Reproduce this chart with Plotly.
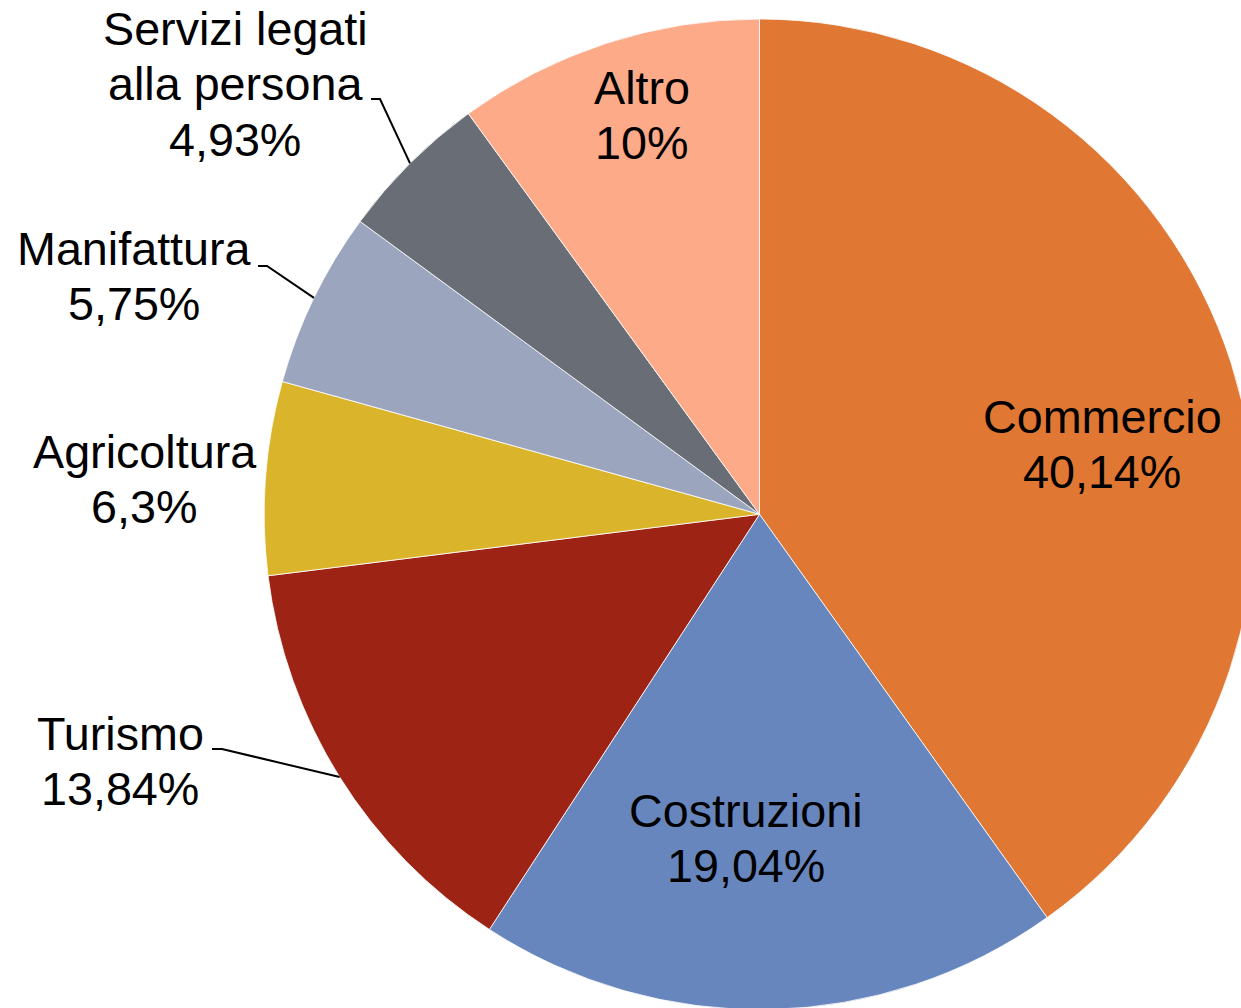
import math
import plotly.graph_objects as go

# ---------------- data ----------------
categories = ["Commercio", "Costruzioni", "Turismo", "Agricoltura",
              "Manifattura", "Servizi legati alla persona", "Altro"]
values = [40.14, 19.04, 13.84, 6.3, 5.75, 4.93, 10]
value_labels = ["40,14%", "19,04%", "13,84%", "6,3%", "5,75%", "4,93%", "10%"]
name_lines = [["Commercio"], ["Costruzioni"], ["Turismo"], ["Agricoltura"],
              ["Manifattura"], ["Servizi legati", "alla persona"], ["Altro"]]
colors = ["#E07733", "#6886BE", "#9D2414", "#DAB42A",
          "#9BA5BD", "#696E76", "#FDAA89"]

# ---------------- layout constants (pixels) ----------------
W, H = 1260, 1020
CX, CY, R = 759.5, 514.3, 495.3
FONT = 46.7
LINE = 55.5
FAMILY = "Liberation Sans, Arial, sans-serif"

# label block: centre x, baseline of first line
label_pos = [(1102, 433), (745.5, 827), (120, 750), (144, 468),
             (133.5, 265), (235, 45), (641.5, 104)]
# leader lines: index -> (x start, x elbow, y)
leaders = {2: (212, 222, 749), 4: (258, 267, 266), 5: (371, 380, 99)}


def px(x):
    return x / W


def py(y):
    return 1 - y / H


fig = go.Figure(go.Pie(
    labels=categories,
    values=values,
    sort=False,
    direction="clockwise",
    rotation=0,
    marker=dict(colors=colors, line=dict(color="rgba(255,255,255,0.8)", width=1)),
    textinfo="none",
    hoverinfo="label+percent",
    showlegend=False,
    domain=dict(x=[px(CX - R), px(CX + R)], y=[py(CY + R), py(CY - R)]),
))

annotations = []
for i, (lines, vlab) in enumerate(zip(name_lines, value_labels)):
    x0, b0 = label_pos[i]
    for k, t in enumerate(lines + [vlab]):
        base = b0 + k * LINE
        annotations.append(dict(
            x=px(x0), y=py(base - 0.35 * FONT), xref="paper", yref="paper",
            text=t, showarrow=False, xanchor="center", yanchor="middle",
            font=dict(family=FAMILY, size=FONT, color="black"),
        ))

total = sum(values)
cum = [sum(values[:i]) for i in range(len(values))]
shapes = []
for i, (xs, xe, yl) in leaders.items():
    th = 2 * math.pi * (cum[i] + values[i] / 2) / total
    ex = CX + R * math.sin(th)
    ey = CY - R * math.cos(th)
    path = "M {} {} L {} {} L {} {}".format(px(xs), py(yl), px(xe), py(yl), px(ex), py(ey))
    shapes.append(dict(type="path", path=path, xref="paper", yref="paper",
                       line=dict(color="black", width=2)))

fig.update_layout(
    width=W, height=H,
    margin=dict(l=0, r=0, t=0, b=0),
    paper_bgcolor="white", plot_bgcolor="white",
    annotations=annotations, shapes=shapes,
)

fig.write_html(
    "out.html",
    config={"displayModeBar": False},
    post_script="document.body.style.margin='0';document.body.style.overflow='hidden';"
                "document.documentElement.style.overflow='hidden';",
)
